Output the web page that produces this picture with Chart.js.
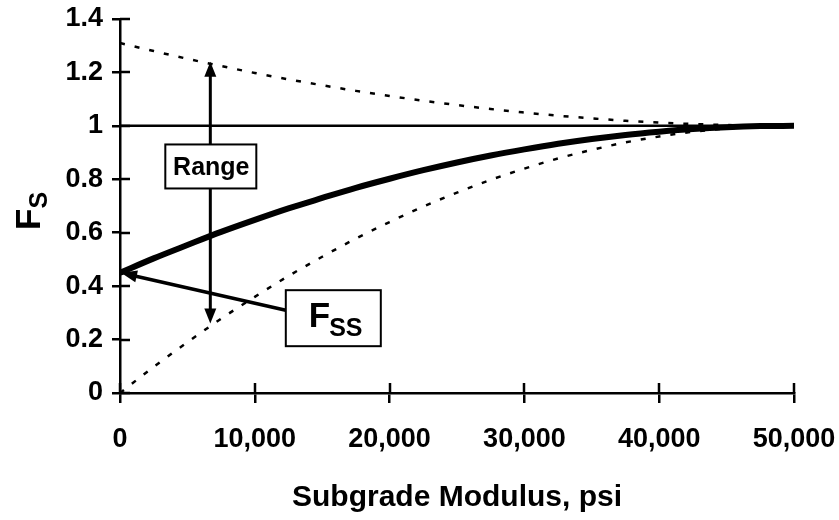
<!DOCTYPE html>
<html>
<head>
<meta charset="utf-8">
<title>Fs vs Subgrade Modulus</title>
<script src="https://cdn.jsdelivr.net/npm/chart.js@4"></script>
<style>
  html, body { margin: 0; padding: 0; background: #fff; }
  #chart { display: block; }
</style>
</head>
<body>
<canvas id="chart" width="839" height="520"></canvas>
<script>
// subgrade modulus (psi) and the factors
const modulus = [0, 2500, 5000, 7500, 10000, 12500, 15000, 17500, 20000, 22500, 25000,
  27500, 30000, 32500, 35000, 37500, 40000, 42500, 45000, 47500, 50000];
const fsValues = [0.450, 0.504, 0.554, 0.603, 0.648, 0.691, 0.730, 0.768, 0.802, 0.834, 0.863,
  0.889, 0.912, 0.933, 0.951, 0.966, 0.978, 0.988, 0.995, 0.999, 1.000];
const upperBound = [1.310, 1.280, 1.251, 1.224, 1.198, 1.174, 1.152, 1.131, 1.112, 1.094, 1.078,
  1.063, 1.050, 1.038, 1.028, 1.019, 1.012, 1.007, 1.003, 1.001, 1.000];
const lowerBound = [0.000, 0.098, 0.190, 0.278, 0.360, 0.438, 0.510, 0.578, 0.640, 0.698, 0.750,
  0.798, 0.840, 0.878, 0.910, 0.938, 0.960, 0.978, 0.990, 0.998, 1.000];
const unityX = [0, 50000];
const unityY = [1, 1];

// annotation anchors (data units)
const rangeArrow = { x: 6700, top: 1.24, bottom: 0.26, labelY: 0.848 };
const fssArrow = { fromX: 12300, fromY: 0.31, toX: 0, toY: 0.45 };

const FONT = '"Liberation Sans", Arial, sans-serif';

const toPoints = (xs, ys) => xs.map((x, i) => ({ x: x, y: ys[i] }));

function arrowHead(ctx, x1, y1, x2, y2, len, half) {
  const a = Math.atan2(y2 - y1, x2 - x1);
  ctx.beginPath();
  ctx.moveTo(x2, y2);
  ctx.lineTo(x2 - len * Math.cos(a) + half * Math.sin(a), y2 - len * Math.sin(a) - half * Math.cos(a));
  ctx.lineTo(x2 - len * Math.cos(a) - half * Math.sin(a), y2 - len * Math.sin(a) + half * Math.cos(a));
  ctx.closePath();
  ctx.fill();
}

const extras = {
  id: 'extras',
  afterDatasetsDraw(chart) {
    const ctx = chart.ctx;
    const xs = chart.scales.x, ys = chart.scales.y;
    ctx.save();
    ctx.strokeStyle = '#000';
    ctx.fillStyle = '#000';

    // tick stubs inside the plot area
    ctx.lineWidth = 2.5;
    ctx.beginPath();
    ys.ticks.forEach(t => {
      const py = Math.round(ys.getPixelForValue(t.value));
      ctx.moveTo(xs.left, py); ctx.lineTo(xs.left + 10, py);
    });
    xs.ticks.forEach(t => {
      const px = Math.round(xs.getPixelForValue(t.value));
      ctx.moveTo(px, ys.bottom); ctx.lineTo(px, ys.bottom - 10);
    });
    ctx.stroke();

    // double-headed "Range" arrow
    const ax = xs.getPixelForValue(rangeArrow.x);
    const aTop = ys.getPixelForValue(rangeArrow.top);
    const aBot = ys.getPixelForValue(rangeArrow.bottom);
    ctx.lineWidth = 3;
    ctx.beginPath();
    ctx.moveTo(ax, aTop + 10); ctx.lineTo(ax, aBot - 10);
    ctx.stroke();
    arrowHead(ctx, ax, aBot, ax, aTop, 15, 6);
    arrowHead(ctx, ax, aTop, ax, aBot, 15, 6);

    // Range label box
    const ly = ys.getPixelForValue(rangeArrow.labelY);
    ctx.fillStyle = '#fff';
    ctx.fillRect(ax - 45, ly - 22, 91, 44);
    ctx.lineWidth = 2;
    ctx.strokeRect(ax - 45, ly - 22, 91, 44);
    ctx.fillStyle = '#000';
    ctx.font = 'bold 25px ' + FONT;
    ctx.textAlign = 'center';
    ctx.textBaseline = 'alphabetic';
    ctx.fillText('Range', ax + 1, ly + 9);

    // arrow to Fss at zero modulus
    const fx = xs.getPixelForValue(fssArrow.fromX), fy = ys.getPixelForValue(fssArrow.fromY);
    const tx = xs.getPixelForValue(fssArrow.toX) + 1, ty = ys.getPixelForValue(fssArrow.toY);
    ctx.lineWidth = 3.5;
    ctx.beginPath();
    ctx.moveTo(fx, fy);
    const ang = Math.atan2(ty - fy, tx - fx);
    ctx.lineTo(tx - 12 * Math.cos(ang), ty - 12 * Math.sin(ang));
    ctx.stroke();
    arrowHead(ctx, fx, fy, tx, ty, 16, 6);

    // Fss label box
    ctx.fillStyle = '#fff';
    ctx.fillRect(fx, fy - 20, 95, 56);
    ctx.lineWidth = 2;
    ctx.strokeRect(fx, fy - 20, 95, 56);
    ctx.fillStyle = '#000';
    ctx.textAlign = 'left';
    ctx.font = 'bold 35px ' + FONT;
    ctx.fillText('F', fx + 23, fy + 17);
    const fw = ctx.measureText('F').width;
    ctx.font = 'bold 25px ' + FONT;
    ctx.fillText('SS', fx + 22 + fw, fy + 26);

    // y-axis title with subscript
    ctx.translate(40, 212);
    ctx.rotate(-Math.PI / 2);
    ctx.font = 'bold 35px ' + FONT;
    ctx.fillText('F', -18, 0);
    const w = ctx.measureText('F').width;
    ctx.font = 'bold 25px ' + FONT;
    ctx.fillText('S', -18 + w, 7);
    ctx.restore();
  }
};

new Chart(document.getElementById('chart'), {
  type: 'line',
  data: {
    datasets: [
      {
        label: 'Unity',
        data: toPoints(unityX, unityY),
        borderColor: '#000',
        borderWidth: 2.5,
        pointRadius: 0
      },
      {
        label: 'Upper bound',
        data: toPoints(modulus, upperBound),
        borderColor: '#000',
        borderWidth: 2.5,
        borderDash: [5, 10],
        pointRadius: 0,
        cubicInterpolationMode: 'monotone'
      },
      {
        label: 'Lower bound',
        data: toPoints(modulus, lowerBound),
        borderColor: '#000',
        borderWidth: 2.5,
        borderDash: [5, 10],
        pointRadius: 0,
        cubicInterpolationMode: 'monotone'
      },
      {
        label: 'Fs',
        data: toPoints(modulus, fsValues),
        borderColor: '#000',
        borderWidth: 6,
        pointRadius: 0,
        cubicInterpolationMode: 'monotone'
      }
    ]
  },
  options: {
    responsive: false,
    animation: false,
    layout: { padding: 0 },
    plugins: {
      legend: { display: false },
      tooltip: { enabled: false }
    },
    scales: {
      x: {
        type: 'linear',
        min: 0,
        max: 50000,
        afterFit(scale) {
          scale.height = 127;
          scale.paddingLeft = 0;
          scale.paddingRight = 45;
        },
        border: { color: '#000', width: 2.5 },
        grid: { drawOnChartArea: false, color: '#000', lineWidth: 2.5, tickLength: 10 },
        ticks: {
          stepSize: 10000,
          color: '#000',
          padding: 20,
          maxRotation: 0,
          font: { family: FONT, size: 27, weight: 'bold' }
        },
        title: {
          display: true,
          text: 'Subgrade Modulus, psi',
          color: '#000',
          padding: { top: 0, bottom: 4 },
          font: { family: FONT, size: 30, weight: 'bold' }
        }
      },
      y: {
        min: 0,
        max: 1.4,
        afterFit(scale) {
          scale.width = 120;
          scale.paddingTop = 19;
          scale.paddingBottom = 0;
        },
        border: { color: '#000', width: 2.5 },
        grid: { drawOnChartArea: false, color: '#000', lineWidth: 2.5, tickLength: 8 },
        ticks: {
          stepSize: 0.2,
          color: '#000',
          padding: 9,
          font: { family: FONT, size: 27, weight: 'bold' },
          callback: v => String(+v.toFixed(1))
        }
      }
    }
  },
  plugins: [extras]
});
</script>
</body>
</html>
